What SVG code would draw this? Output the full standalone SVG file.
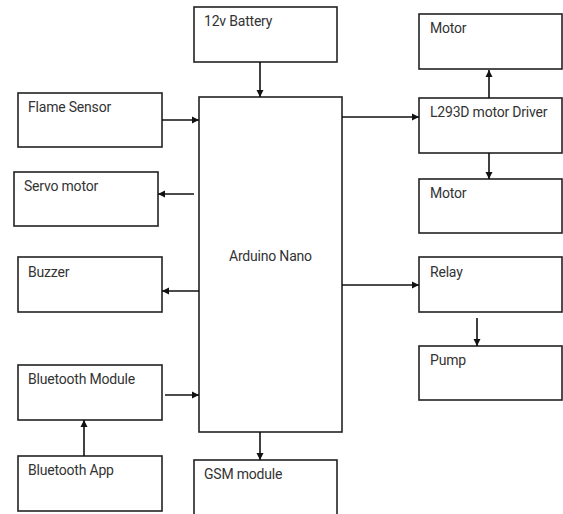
<svg xmlns="http://www.w3.org/2000/svg" width="563" height="514" viewBox="0 0 563 514">
<style>
.b{fill:#fff;stroke:#222;stroke-width:1.6}
.t{font-family:Roboto,"Liberation Sans",sans-serif;font-size:14px;fill:#333;letter-spacing:-0.2px}
.c{stroke:#111;stroke-width:1.6;fill:none;marker-end:url(#ah)}
</style>
<defs>
<marker id="ah" viewBox="0 0 10 10" refX="10" refY="5" markerWidth="4.5" markerHeight="4.5" orient="auto" markerUnits="strokeWidth">
<path d="M0,0L10,5L0,10z" fill="#111"/>
</marker>
</defs>
<rect width="563" height="514" fill="#fff"/>
<g id="battery"><rect class="b" x="194" y="7" width="143" height="55"/><text class="t" x="204" y="26">12v Battery</text></g>
<g id="arduino"><rect class="b" x="199" y="97" width="143" height="335"/><text class="t" x="229" y="261">Arduino Nano</text></g>
<g id="flame"><rect class="b" x="18" y="93" width="144" height="54"/><text class="t" x="28" y="112">Flame Sensor</text></g>
<g id="servo"><rect class="b" x="14" y="172" width="144" height="54"/><text class="t" x="24" y="191">Servo motor</text></g>
<g id="buzzer"><rect class="b" x="18" y="257" width="144" height="55"/><text class="t" x="28" y="277">Buzzer</text></g>
<g id="btmodule"><rect class="b" x="18" y="365" width="144" height="55"/><text class="t" x="28" y="384">Bluetooth Module</text></g>
<g id="btapp"><rect class="b" x="18" y="456" width="144" height="55"/><text class="t" x="28" y="475">Bluetooth App</text></g>
<g id="gsm"><rect class="b" x="194" y="460" width="143" height="60"/><text class="t" x="204" y="479">GSM module</text></g>
<g id="motor1"><rect class="b" x="419" y="14" width="143" height="55"/><text class="t" x="430" y="33">Motor</text></g>
<g id="driver"><rect class="b" x="419" y="98" width="143" height="55"/><text class="t" x="430" y="117">L293D motor Driver</text></g>
<g id="motor2"><rect class="b" x="419" y="179" width="143" height="54"/><text class="t" x="430" y="198">Motor</text></g>
<g id="relay"><rect class="b" x="419" y="257" width="143" height="55"/><text class="t" x="430" y="277">Relay</text></g>
<g id="pump"><rect class="b" x="419" y="346" width="143" height="54"/><text class="t" x="430" y="365">Pump</text></g>
<g id="connectors">
<line class="c" x1="260" y1="62" x2="260" y2="97"/>
<line class="c" x1="162" y1="120" x2="199" y2="120"/>
<line class="c" x1="194" y1="194" x2="158" y2="194"/>
<line class="c" x1="199" y1="291" x2="162" y2="291"/>
<line class="c" x1="165" y1="395" x2="199" y2="395"/>
<line class="c" x1="84" y1="456" x2="84" y2="420"/>
<line class="c" x1="260" y1="432" x2="260" y2="460"/>
<line class="c" x1="342" y1="117" x2="419" y2="117"/>
<line class="c" x1="489" y1="98" x2="489" y2="70"/>
<line class="c" x1="489" y1="153" x2="489" y2="179"/>
<line class="c" x1="342" y1="285" x2="419" y2="285"/>
<line class="c" x1="477" y1="318" x2="477" y2="346"/>
</g>
</svg>
